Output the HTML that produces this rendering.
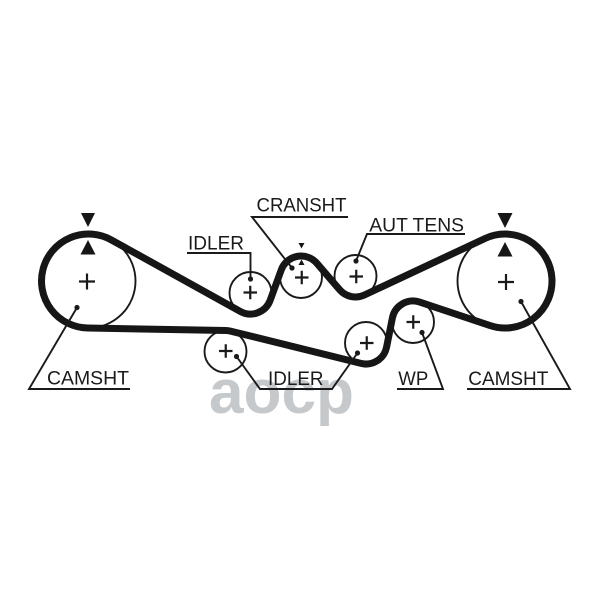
<!DOCTYPE html>
<html>
<head>
<meta charset="utf-8">
<style>
  html, body { margin: 0; padding: 0; background: #ffffff; }
  body { width: 600px; height: 589px; overflow: hidden; }
  svg { display: block; }
  .lbl { font-family: "Liberation Sans", Arial, sans-serif; font-size: 19px; fill: #1a1a1a; }
</style>
</head>
<body>
<svg width="600" height="589" viewBox="0 0 600 589" xmlns="http://www.w3.org/2000/svg">
  <rect x="0" y="0" width="600" height="589" fill="#ffffff"/>

  <!-- watermark -->
  <text x="209" y="413" font-family="Liberation Sans, Arial, sans-serif" font-weight="bold" font-size="62" fill="#c6c9cc" textLength="145" lengthAdjust="spacingAndGlyphs">aocp</text>

  <!-- pulley circles -->
  <g fill="none" stroke="#1a1a1a" stroke-width="1.9">
    <circle cx="88.5" cy="281" r="47"/>
    <circle cx="505" cy="281" r="47.5"/>
    <circle cx="250.5" cy="293" r="21"/>
    <circle cx="301" cy="277" r="21"/>
    <circle cx="355.5" cy="276" r="21"/>
    <circle cx="413" cy="322" r="21"/>
    <circle cx="366" cy="343" r="21"/>
    <circle cx="225.5" cy="351.5" r="21"/>
  </g>

  <!-- belt -->
  <path d="M 111.3 239.9
           L 240.3 311.4
           A 21 21 0 0 0 270.2 300.2
           L 281.3 269.8
           A 21 21 0 0 1 316.9 263.3
           L 339.6 289.7
           A 21 21 0 0 0 364.4 295.0
           L 485.0 238.5
           A 47 47 0 1 1 490.1 325.6
           L 419.7 302.1
           A 21 21 0 0 0 392.4 317.9
           L 386.6 347.1
           A 21 21 0 0 1 361.0 363.4
           L 230.5 331.1
           A 21 21 0 0 0 225.9 330.5
           L 87.7 328.0
           A 47 47 0 1 1 111.3 239.9 Z"
        fill="none" stroke="#161616" stroke-width="7" stroke-linejoin="round"/>

  <!-- plus signs -->
  <g stroke="#1a1a1a" stroke-width="2.2" fill="none">
    <path d="M79 281.5 H95 M87 273.5 V289.5"/>
    <path d="M498 282 H514 M506 274 V290"/>
    <path d="M243.5 292.5 H257 M250.25 285.75 V299.25"/>
    <path d="M295 277.5 H308.5 M301.75 270.75 V284.25"/>
    <path d="M349.5 276.5 H363 M356.25 269.75 V283.25"/>
    <path d="M406.5 322 H420 M413.25 315.25 V328.75"/>
    <path d="M360 343 H373.5 M366.75 336.25 V349.75"/>
    <path d="M219 351 H232.5 M225.75 344.25 V357.75"/>
  </g>

  <!-- triangles -->
  <g fill="#161616">
    <polygon points="81,213 95,213 88,227"/>
    <polygon points="88,240 95.5,254.5 80.5,254.5"/>
    <polygon points="497.5,213 512.5,213 505,228"/>
    <polygon points="505,242 512.5,256.5 497.5,256.5"/>
    <polygon points="298.5,243 304.5,243 301.5,248.5"/>
    <polygon points="301.5,259.5 304.5,265 298.5,265"/>
  </g>

  <!-- leader lines -->
  <g fill="none" stroke="#1a1a1a" stroke-width="1.9" stroke-linejoin="miter">
    <polyline points="130,389 29,389 77,307.5"/>
    <polyline points="187,253 250.5,253 250.5,279"/>
    <polyline points="348,217 252,217 292,268"/>
    <polyline points="465,234 367,234 356,261"/>
    <polyline points="467,389 570,389 521,301.5"/>
    <polyline points="397,389 443,389 422,332.5"/>
    <polyline points="236.5,356.5 260,389 332,389 357.5,353"/>
  </g>
  <g fill="#1a1a1a">
    <circle cx="77" cy="307.5" r="2.6"/>
    <circle cx="250.5" cy="279" r="2.6"/>
    <circle cx="292" cy="268" r="2.6"/>
    <circle cx="356" cy="261" r="2.6"/>
    <circle cx="521" cy="301.5" r="2.6"/>
    <circle cx="422" cy="332.5" r="2.6"/>
    <circle cx="236.5" cy="356.5" r="2.6"/>
    <circle cx="357.5" cy="353" r="2.6"/>
  </g>

  <!-- labels -->
  <text class="lbl" x="47" y="384.5" textLength="82" lengthAdjust="spacingAndGlyphs">CAMSHT</text>
  <text class="lbl" x="188" y="249.5" textLength="56" lengthAdjust="spacingAndGlyphs">IDLER</text>
  <text class="lbl" x="256.5" y="211.7" textLength="90" lengthAdjust="spacingAndGlyphs">CRANSHT</text>
  <text class="lbl" x="369.3" y="231.7" textLength="94.7" lengthAdjust="spacingAndGlyphs">AUT TENS</text>
  <text class="lbl" x="468.3" y="385" textLength="80" lengthAdjust="spacingAndGlyphs">CAMSHT</text>
  <text class="lbl" x="398.3" y="385" textLength="30" lengthAdjust="spacingAndGlyphs">WP</text>
  <text class="lbl" x="268" y="385" textLength="55.5" lengthAdjust="spacingAndGlyphs">IDLER</text>
</svg>
</body>
</html>
